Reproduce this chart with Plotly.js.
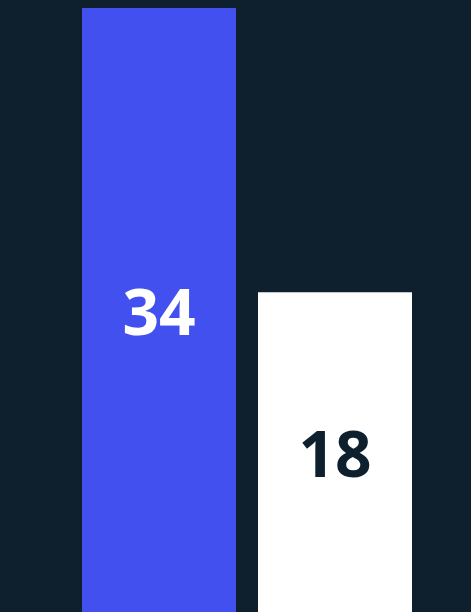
<!DOCTYPE html>
<html><head><meta charset="utf-8">
<script src="https://cdn.plot.ly/plotly-3.0.1.min.js"></script>
<style>html,body{margin:0;padding:0;background:#0e1f2e;}#chart{width:471px;height:612px;}</style>
</head><body><div id="chart"></div>
<script>
const categories = ["A", "B"];
const values = [34, 18];
const barColors = ["#4250f0", "#ffffff"];
const textColors = ["#ffffff", "#0e1f2e"];

Plotly.newPlot("chart", [{
  type: "bar",
  x: categories,
  y: values,
  text: values.map(v => "<b>" + v + "</b>"),
  textposition: "inside",
  insidetextanchor: "middle",
  textangle: 0,
  marker: {color: barColors, line: {width: 0}},
  textfont: {family: "Open Sans", size: 64, color: textColors, weight: 700},
  hoverinfo: "none",
  cliponaxis: false
}], {
  width: 471, height: 612,
  margin: {l: 71, r: 48, t: 8, b: 0, pad: 0},
  paper_bgcolor: "#0e1f2e",
  plot_bgcolor: "#0e1f2e",
  bargap: 0.125,
  showlegend: false,
  xaxis: {visible: false, range: [-0.5, 1.5], fixedrange: true},
  yaxis: {visible: false, range: [0, 34], fixedrange: true}
}, {staticPlot: true, displayModeBar: false});
</script></body></html>
